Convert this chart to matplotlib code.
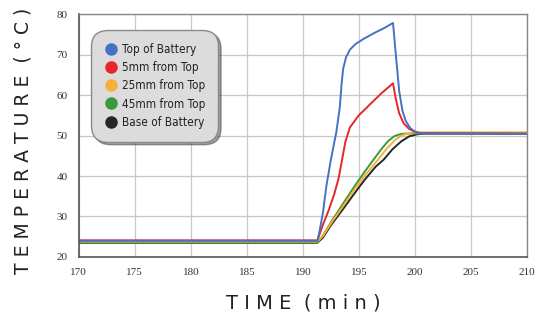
import matplotlib

matplotlib.use("Agg")
import matplotlib.pyplot as plt  # noqa: E402
from matplotlib.lines import Line2D  # noqa: E402
from matplotlib import font_manager  # noqa: E402

# --- data ---
top_t = [170, 191.3, 191.5, 191.8, 192.1, 192.5, 193.0, 193.3, 193.45, 193.6,
         193.85, 194.2, 194.7, 195.5, 196.5, 197.3, 198.05, 198.3, 198.6,
         198.9, 199.2, 199.6, 200.0, 200.5, 210]
top_v = [24.0, 24.0, 26.5, 31.0, 37.5, 44.0, 51.0, 57.0, 62.5, 66.5,
         69.3, 71.2, 72.6, 74.0, 75.5, 76.6, 77.8, 70.0, 61.0,
         56.0, 53.5, 51.8, 51.0, 50.5, 50.4]

mm5_t = [170, 191.3, 191.8, 192.3, 192.8, 193.2, 193.5, 193.8, 194.2, 195.0,
         196.0, 197.0, 198.05, 198.3, 198.6, 199.0, 199.5, 200.0, 200.5, 210]
mm5_v = [24.1, 24.1, 28.0, 31.5, 35.5, 39.5, 44.0, 48.5, 52.0, 55.0,
         57.7, 60.4, 62.9, 59.0, 55.5, 53.0, 51.6, 50.9, 50.6, 50.5]

mm25_t = [170, 191.3, 191.8, 192.5, 193.5, 194.5, 195.5, 196.7, 197.5, 198.2,
          198.8, 199.5, 200.2, 210]
mm25_v = [23.8, 23.8, 25.2, 28.2, 32.2, 36.2, 40.0, 44.0, 46.8, 48.8,
          50.0, 50.6, 50.8, 50.8]

mm45_t = [170, 191.3, 191.8, 192.5, 193.5, 194.5, 195.5, 196.3, 197.0, 197.6,
          198.2, 198.8, 199.5, 210]
mm45_v = [23.6, 23.6, 25.3, 28.5, 32.8, 37.0, 41.0, 44.0, 46.6, 48.6,
          49.9, 50.4, 50.5, 50.4]

base_t = [170, 191.3, 191.8, 192.5, 193.5, 194.5, 195.5, 196.5, 197.2, 198.0,
          198.8, 199.5, 200.2, 201.0, 210]
base_v = [23.5, 23.5, 24.8, 27.8, 31.5, 35.3, 39.0, 42.3, 44.0, 46.6,
          48.6, 49.8, 50.3, 50.5, 50.6]

labels = ["Top of Battery", "5mm from Top", "25mm from Top",
          "45mm from Top", "Base of Battery"]
colors = ["#4472c4", "#e8252a", "#f6b03a", "#3a9a3a", "#262626"]

x_ticks = [170, 175, 180, 185, 190, 195, 200, 205, 210]
y_ticks = [20, 30, 40, 50, 60, 70, 80]

serif = ["Liberation Serif", "DejaVu Serif"]
legend_font = font_manager.FontProperties(
    family=["DejaVu Sans"], stretch="condensed", size=8.5)

fig = plt.figure(figsize=(5.36, 3.2), dpi=100)
ax = fig.add_axes([0.147, 0.197, 0.836, 0.759])

series = [(top_t, top_v), (mm5_t, mm5_v), (mm25_t, mm25_v),
          (mm45_t, mm45_v), (base_t, base_v)]
# draw bottom-most first so top of battery stays visible
for (t, v), c in reversed(list(zip(series, colors))):
    ax.plot(t, v, color=c, linewidth=1.4, solid_joinstyle="round")

ax.set_xlim(170, 210)
ax.set_ylim(20, 80)
ax.set_xticks(x_ticks)
ax.set_yticks(y_ticks)
ax.tick_params(length=0, pad=8, labelsize=8, colors="#333333")
for lab in ax.get_xticklabels() + ax.get_yticklabels():
    lab.set_family(serif)
ax.grid(True, color="#c8c8c8", linewidth=0.9)
ax.set_axisbelow(True)
for side in ["left", "bottom"]:
    ax.spines[side].set_color("#555555")
    ax.spines[side].set_linewidth(1.2)
for side in ["top", "right"]:
    ax.spines[side].set_color("#888888")
    ax.spines[side].set_linewidth(1.0)

ax.set_xlabel("T I M E  ( m i n )", fontsize=14, color="#222222")
ax.xaxis.set_label_coords(0.5, -0.15)
ax.set_ylabel("T E M P E R A T U R E  ( ° C )", fontsize=13.5,
              color="#222222")
ax.yaxis.set_label_coords(-0.103, 0.48)

handles = [Line2D([], [], linestyle="none", marker="o", markersize=8,
                  markerfacecolor=c, markeredgecolor=c) for c in colors]
leg = ax.legend(handles, labels, loc="upper left",
                bbox_to_anchor=(0.033, 0.926), borderaxespad=0,
                frameon=True, fancybox=True, shadow=True,
                prop=legend_font,
                handletextpad=0.3, labelspacing=0.45, borderpad=0.9,
                handlelength=1.2)
frame = leg.get_frame()
frame.set_facecolor("#dcdcdc")
frame.set_edgecolor("#8a8a8a")
frame.set_alpha(1)
frame.set_boxstyle("round,pad=0.2,rounding_size=1.4")
for txt in leg.get_texts():
    txt.set_color("#222222")

fig.savefig("out.png", dpi=100)
